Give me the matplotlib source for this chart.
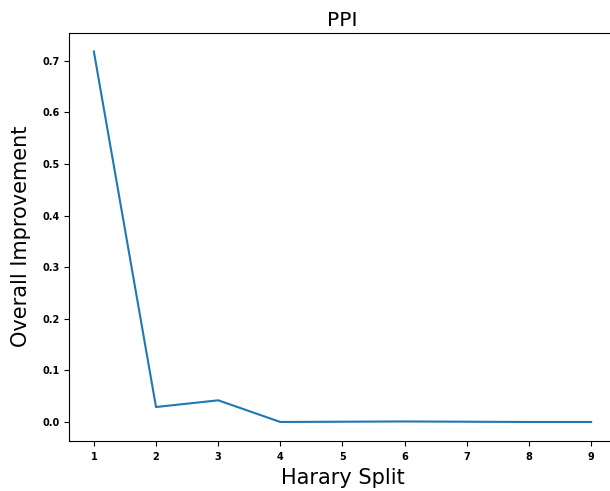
import numpy as np
import matplotlib.pyplot as plt

# Harary split vs overall improvement (PPI)
split = [1, 2, 3, 4, 5, 6, 7, 8, 9]
improvement = [0.718, 0.029, 0.042, 0.0, 0.0005, 0.001, 0.0005, 0.0, 0.0]

fig = plt.figure(figsize=(6.1, 4.91), dpi=100)
ax = fig.add_axes([69/610, 50.5/491, 547/610, 407.5/491])

ax.plot(split, improvement, color='#1f77b4', linewidth=1.5)
ax.spines['right'].set_visible(False)  # falls outside the picture

ax.set_title('PPI', fontsize=14.5, pad=5)
ax.set_xlabel('Harary Split', fontsize=15, labelpad=4)
ax.set_ylabel('Overall Improvement', fontsize=15, labelpad=8)
ax.tick_params(axis='x', pad=5)

for lab in ax.get_xticklabels() + ax.get_yticklabels():
    lab.set_fontweight('bold')
    lab.set_fontsize(7)

fig.savefig('out.png', dpi=100)
